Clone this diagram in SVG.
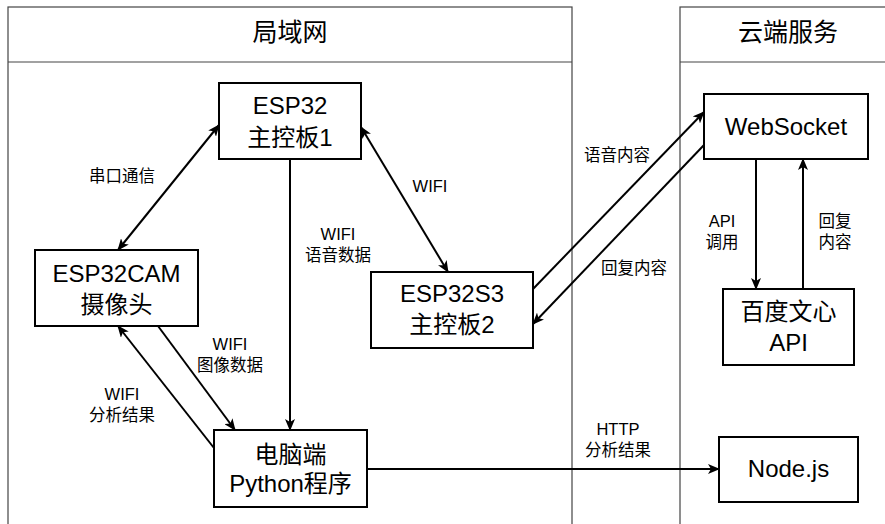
<svg xmlns="http://www.w3.org/2000/svg" width="885" height="524" viewBox="0 0 885 524">
<style>
.bg{fill:#fff}
.lane{fill:none;stroke:#444;stroke-width:1.2}
.node{fill:#fff;stroke:#000;stroke-width:2}
.edge{fill:none;stroke:#000;stroke-width:2}
.t{font-family:"Liberation Sans","Noto Sans CJK SC",sans-serif;fill:#000;text-anchor:middle}
.hd{font-size:25px}
.nt{font-size:24px}
.lb{font-size:16.5px}
</style>
<defs>
<marker id="arr" viewBox="0 0 12 10" refX="11" refY="5" markerWidth="12" markerHeight="10" markerUnits="userSpaceOnUse" orient="auto-start-reverse">
<path d="M0,0 L12,5 L0,10 L3,5 z" fill="#000"/>
</marker>
</defs>
<rect class="bg" x="0" y="0" width="885" height="524"/>
<g id="lane-local">
<rect class="lane" x="8" y="7" width="564" height="540"/>
<line class="lane" x1="8" y1="62" x2="572" y2="62"/>
<text class="t hd" x="290" y="41">局域网</text>
</g>
<g id="lane-cloud">
<rect class="lane" x="680" y="7" width="217" height="540"/>
<line class="lane" x1="680" y1="62" x2="897" y2="62"/>
<text class="t hd" x="788" y="41">云端服务</text>
</g>
<g id="connectors">
<line class="edge" x1="219" y1="125" x2="118" y2="250" marker-start="url(#arr)" marker-end="url(#arr)"/>
<line class="edge" x1="361" y1="127" x2="448" y2="272" marker-start="url(#arr)" marker-end="url(#arr)"/>
<line class="edge" x1="290" y1="159" x2="290" y2="430" marker-end="url(#arr)"/>
<line class="edge" x1="158" y1="326" x2="235" y2="430" marker-end="url(#arr)"/>
<line class="edge" x1="214" y1="448" x2="118" y2="326" marker-end="url(#arr)"/>
<line class="edge" x1="533" y1="289" x2="704" y2="112" marker-end="url(#arr)"/>
<line class="edge" x1="704" y1="145" x2="533" y2="324" marker-end="url(#arr)"/>
<line class="edge" x1="756" y1="159" x2="756" y2="289" marker-end="url(#arr)"/>
<line class="edge" x1="803" y1="289" x2="803" y2="159" marker-end="url(#arr)"/>
<line class="edge" x1="367" y1="469" x2="719" y2="469" marker-end="url(#arr)"/>
<text class="t lb" x="122" y="182">串口通信</text>
<text class="t lb" x="430" y="192">WIFI</text>
<text class="t lb" x="338" y="240">WIFI</text>
<text class="t lb" x="338" y="261">语音数据</text>
<text class="t lb" x="617" y="161">语音内容</text>
<text class="t lb" x="634" y="274">回复内容</text>
<text class="t lb" x="722" y="227">API</text>
<text class="t lb" x="722" y="248">调用</text>
<text class="t lb" x="835" y="227">回复</text>
<text class="t lb" x="835" y="248">内容</text>
<text class="t lb" x="230" y="350">WIFI</text>
<text class="t lb" x="230" y="371">图像数据</text>
<text class="t lb" x="122" y="400">WIFI</text>
<text class="t lb" x="122" y="421">分析结果</text>
<text class="t lb" x="618" y="435">HTTP</text>
<text class="t lb" x="618" y="456">分析结果</text>
</g>
<g id="esp32-main1">
<rect class="node" x="219" y="83" width="142" height="76"/>
<text class="t nt" x="290" y="114">ESP32</text>
<text class="t nt" x="290" y="146">主控板1</text>
</g>
<g id="esp32cam">
<rect class="node" x="35" y="250" width="163" height="76"/>
<text class="t nt" x="116.5" y="282">ESP32CAM</text>
<text class="t nt" x="116.5" y="313">摄像头</text>
</g>
<g id="esp32s3-main2">
<rect class="node" x="371" y="272" width="162" height="76"/>
<text class="t nt" x="452" y="302">ESP32S3</text>
<text class="t nt" x="452" y="333">主控板2</text>
</g>
<g id="pc-python">
<rect class="node" x="214" y="430" width="153" height="77"/>
<text class="t nt" x="290.5" y="463">电脑端</text>
<text class="t nt" x="290.5" y="492">Python程序</text>
</g>
<g id="websocket">
<rect class="node" x="704" y="94" width="164" height="65"/>
<text class="t nt" x="786" y="135">WebSocket</text>
</g>
<g id="baidu-api">
<rect class="node" x="723" y="289" width="131" height="76"/>
<text class="t nt" x="788.5" y="320">百度文心</text>
<text class="t nt" x="788.5" y="351">API</text>
</g>
<g id="nodejs">
<rect class="node" x="719" y="437" width="139" height="65"/>
<text class="t nt" x="788.5" y="477">Node.js</text>
</g>
</svg>
